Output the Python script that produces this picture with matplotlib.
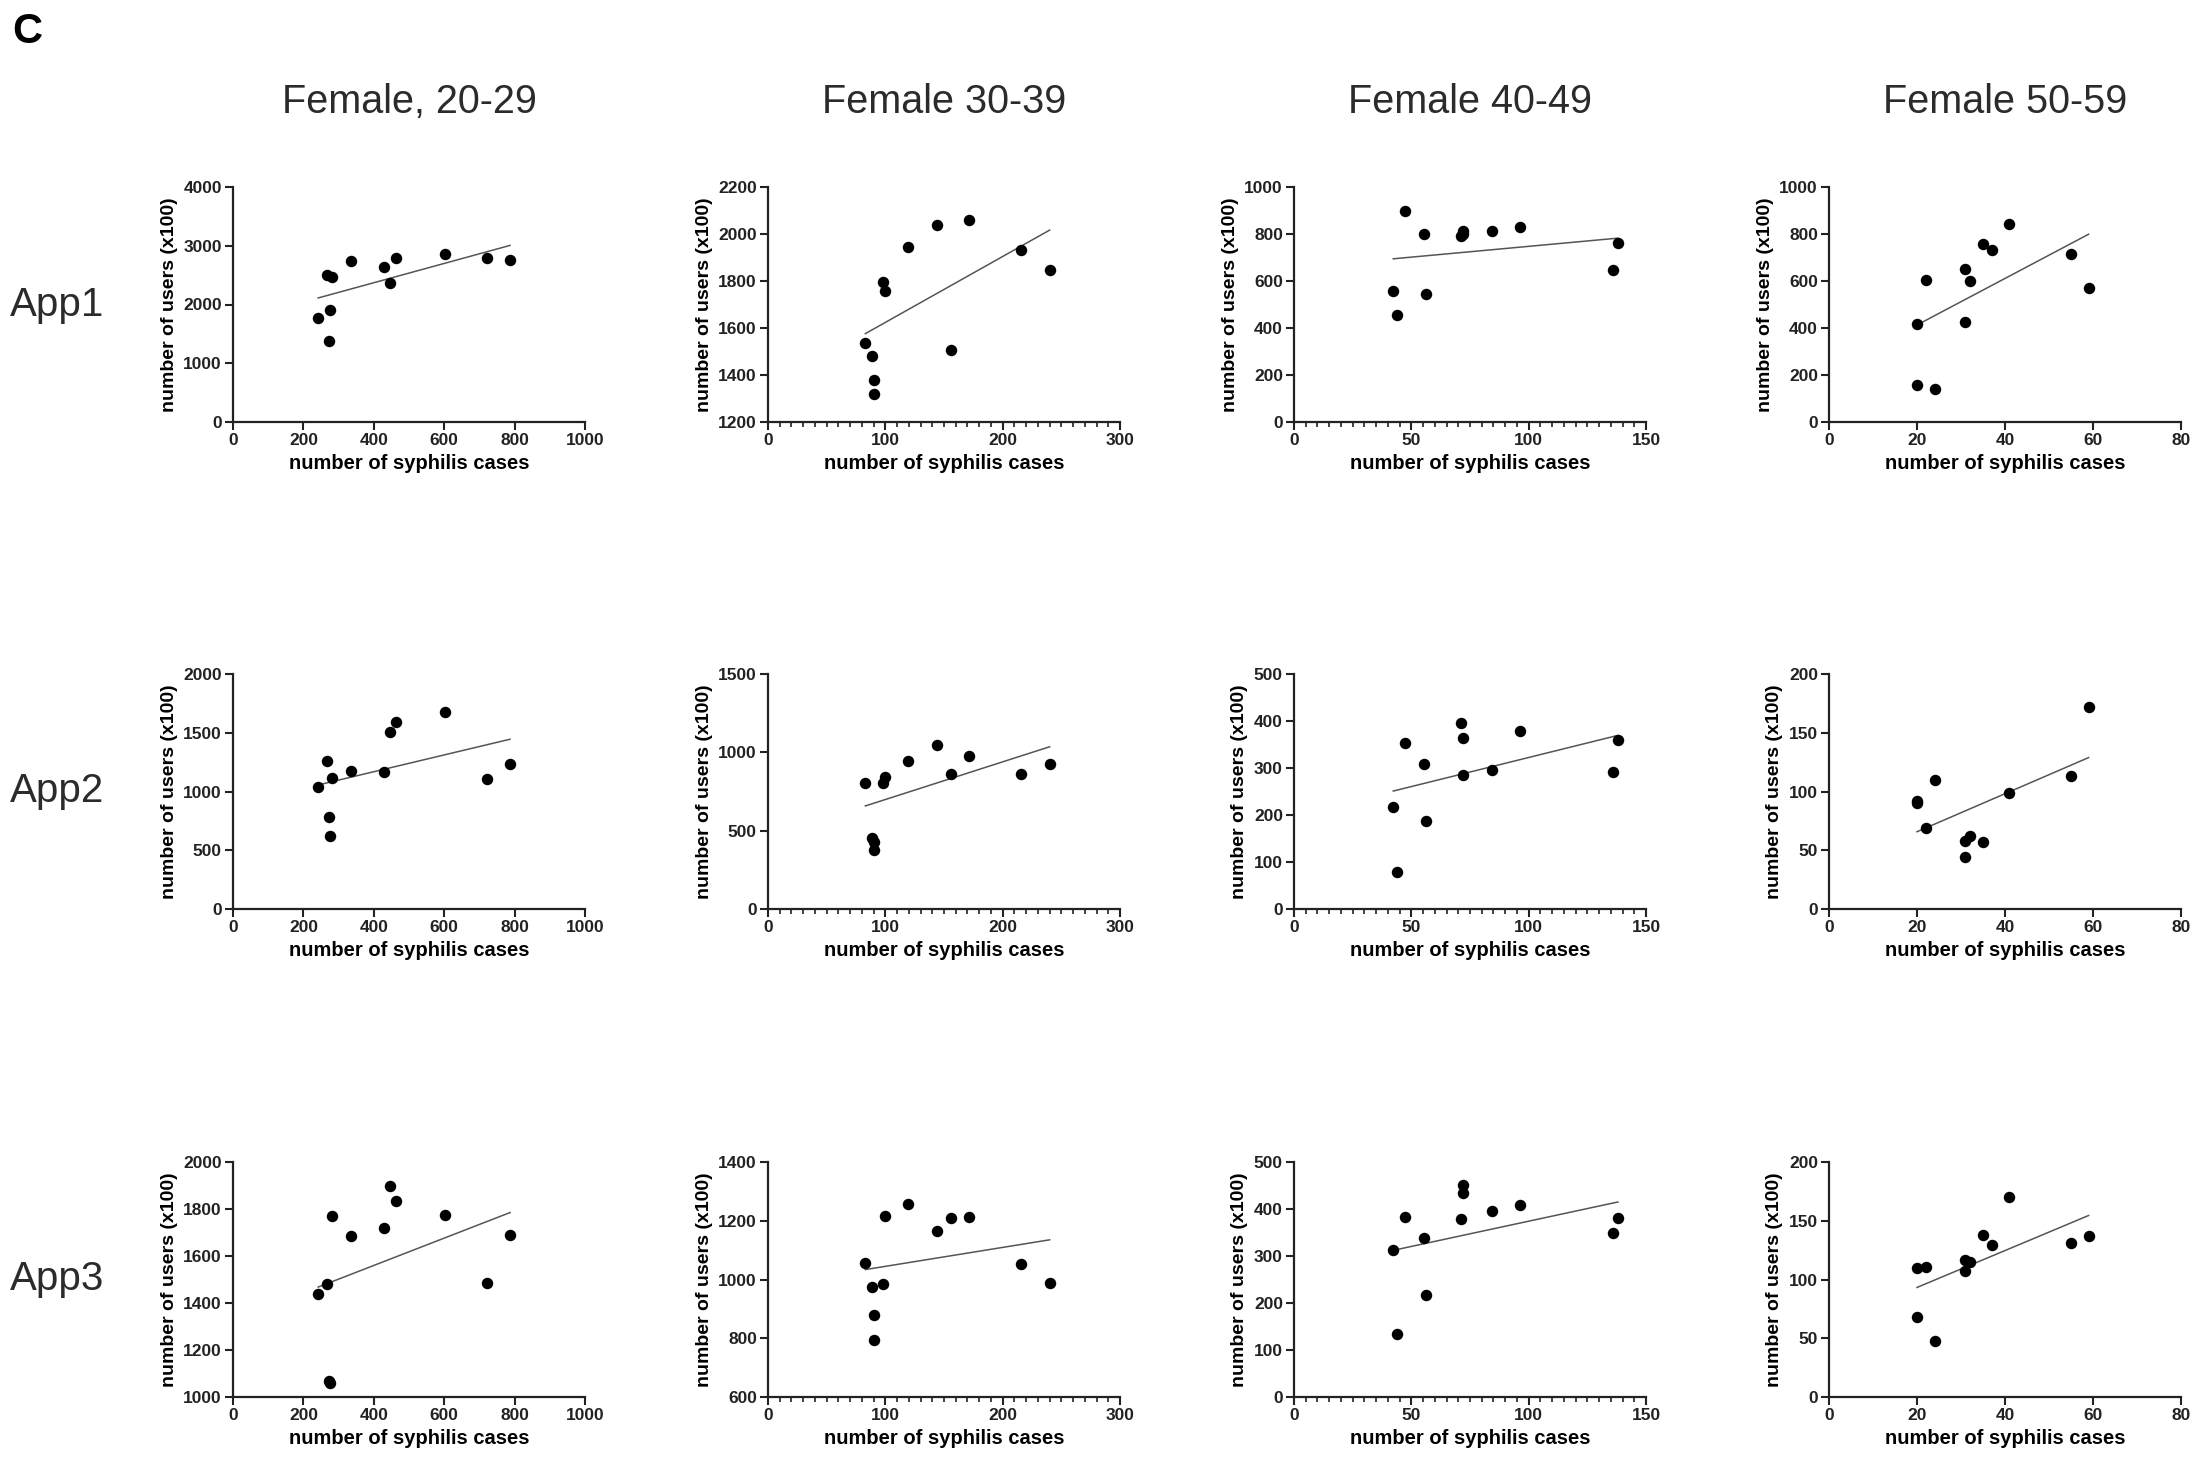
import matplotlib
matplotlib.use("Agg")
import matplotlib.pyplot as plt
from matplotlib.ticker import MultipleLocator
import numpy as np

plt.rcParams["font.family"] = ["Liberation Sans", "DejaVu Sans"]
plt.rcParams["font.weight"] = "bold"

col_titles = ["Female, 20-29", "Female 30-39", "Female 40-49", "Female 50-59"]
row_labels = ["App1", "App2", "App3"]

# number of syphilis cases (x), shared by the three apps of each age group
cases_20_29 = [242, 268, 272, 276, 280, 336, 428, 445, 463, 602, 722, 787]
cases_30_39 = [83, 88.6, 90, 90, 97.6, 100, 119, 144, 156, 171, 216, 240]
cases_40_49 = [42.3, 44, 47.3, 55.2, 56.2, 71, 72, 72, 84.3, 96.2, 136, 138]
cases_50_59 = [20, 20, 22, 24, 31, 31, 32, 35, 37, 41, 55, 59]

# number of users (x100)
app1_20_29 = [1770, 2510, 1380, 1900, 2460, 2740, 2638, 2372, 2791, 2865, 2797, 2752]
app1_30_39 = [1535, 1481, 1378, 1320, 1794, 1758, 1946, 2039, 1506, 2058, 1932, 1847]
app1_40_49 = [557, 455, 898, 798, 545, 791, 812, 800, 812, 831, 645, 763]
app1_50_59 = [415, 156, 604, 141, 649, 425, 599, 756, 734, 841, 717, 571]

app2_20_29 = [1035, 1260, 780, 621, 1112, 1172, 1163, 1504, 1589, 1679, 1104, 1231]
app2_30_39 = [806, 455, 377, 430, 806, 845, 945, 1047, 860, 977, 860, 928]
app2_40_49 = [216, 78, 354, 308, 188, 396, 363, 285, 296, 379, 292, 360]
app2_50_59 = [92, 90, 69, 110, 58, 44, 62, 57, np.nan, 99, 113, 172]

app3_20_29 = [1437, 1479, 1068, 1060, 1769, 1686, 1720, 1900, 1835, 1773, 1487, 1690]
app3_30_39 = [1056, 975, 880, 793, 986, 1216, 1258, 1164, 1209, 1213, 1054, 988]
app3_40_49 = [313, 133, 384, 338, 216, 379, 452, 433, 395, 409, 349, 381]
app3_50_59 = [110, 68, 111, 48, 117, 107, 115, 138, 129, 170, 131, 137]

cases = [cases_20_29, cases_30_39, cases_40_49, cases_50_59]
users = [
    [app1_20_29, app1_30_39, app1_40_49, app1_50_59],
    [app2_20_29, app2_30_39, app2_40_49, app2_50_59],
    [app3_20_29, app3_30_39, app3_40_49, app3_50_59],
]

# axis settings
x_max = [1000, 300, 150, 80]
x_major = [200, 100, 50, 20]
x_minor = [None, 10, 5, None]
y_axes = [
    [(0, 4000, 1000), (1200, 2200, 200), (0, 1000, 200), (0, 1000, 200)],
    [(0, 2000, 500), (0, 1500, 500), (0, 500, 100), (0, 200, 50)],
    [(1000, 2000, 200), (600, 1400, 200), (0, 500, 100), (0, 200, 50)],
]

W, H = 2211, 1473
fig = plt.figure(figsize=(W / 100, H / 100), dpi=100)

col_left = [233, 768, 1294, 1829]
row_top = [187, 674, 1162]
ax_w, ax_h = 352, 235

for r in range(3):
    for c in range(4):
        ax = fig.add_axes([col_left[c] / W, 1 - (row_top[r] + ax_h) / H,
                           ax_w / W, ax_h / H])
        x = np.array(cases[c], dtype=float)
        y = np.array(users[r][c], dtype=float)
        ok = ~np.isnan(y)

        ax.scatter(x[ok], y[ok], s=68, color="black", zorder=3,
                   clip_on=False, linewidths=0)

        # linear fit over the observed range
        k, b = np.polyfit(x[ok], y[ok], 1)
        xs = np.array([x[ok].min(), x[ok].max()])
        ax.plot(xs, k * xs + b, color="#555555", lw=1.1, zorder=2)

        y0, y1, ystep = y_axes[r][c]
        ax.set_xlim(0, x_max[c])
        ax.set_ylim(y0, y1)
        ax.xaxis.set_major_locator(MultipleLocator(x_major[c]))
        if x_minor[c]:
            ax.xaxis.set_minor_locator(MultipleLocator(x_minor[c]))
        ax.yaxis.set_major_locator(MultipleLocator(ystep))

        for side in ["top", "right"]:
            ax.spines[side].set_visible(False)
        for side in ["left", "bottom"]:
            ax.spines[side].set_linewidth(1.6)
            ax.spines[side].set_color("#222222")

        ax.tick_params(which="major", direction="out", length=6, width=1.5,
                       labelsize=12.5, pad=2, colors="#222222")
        ax.tick_params(which="minor", direction="out", length=3.5, width=1.2,
                       colors="#222222")

        ax.set_xlabel("number of syphilis cases", fontsize=14.5,
                      fontweight="bold", labelpad=4)
        ax.set_ylabel("number of users (x100)", fontsize=14,
                      fontweight="bold", labelpad=4)

# column titles
for c, title in enumerate(col_titles):
    cx = (col_left[c] + ax_w / 2) / W
    fig.text(cx, 1 - 102 / H, title, ha="center", va="center",
             fontsize=28.5, fontweight="normal", color="#2b2b2b")

# row labels
for r, label in enumerate(row_labels):
    cy = 1 - (row_top[r] + ax_h / 2) / H
    fig.text(10 / W, cy, label, ha="left", va="center",
             fontsize=29, fontweight="normal", color="#2b2b2b")

fig.text(12 / W, 1 - 12 / H, "C", ha="left", va="top",
         fontsize=30, fontweight="bold", color="black")

fig.savefig("out.png", dpi=100)
